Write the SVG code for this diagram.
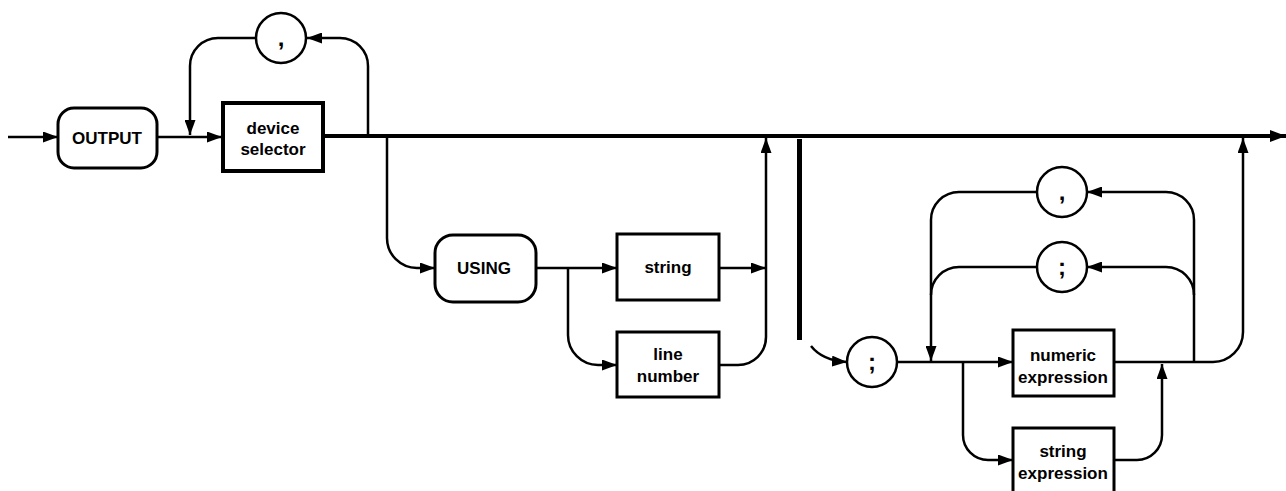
<svg xmlns="http://www.w3.org/2000/svg" width="1286" height="491" viewBox="0 0 1286 491">
<style>
.ln{fill:none;stroke:#000;stroke-width:2.5;stroke-linejoin:round}
.thick{fill:none;stroke:#000;stroke-width:4}
.box{fill:#fff;stroke:#000;stroke-width:3}
.t{font-family:"Liberation Sans",Arial,sans-serif;font-weight:bold;font-size:17px;text-anchor:middle;fill:#000}
.p{font-family:"Liberation Sans",Arial,sans-serif;font-weight:bold;font-size:24px;text-anchor:middle;fill:#000}
</style>
<defs>
<marker id="a" markerUnits="userSpaceOnUse" markerWidth="15" markerHeight="11" viewBox="0 0 15 11" refX="15" refY="5.5" orient="auto">
<path d="M0,0 L15,5.5 L0,11 z" fill="#000"/>
</marker>
<marker id="b" markerUnits="userSpaceOnUse" markerWidth="16" markerHeight="12" viewBox="0 0 16 12" refX="16" refY="6" orient="auto">
<path d="M0,0 L16,6 L0,12 z" fill="#000"/>
</marker>
</defs>
<g id="connectors">
<path class="ln" d="M8,137 H58" marker-end="url(#a)"/>
<path class="ln" d="M157,137 H222" marker-end="url(#a)"/>
<path class="thick" d="M323,136 H1286" marker-end="url(#b)"/>
<path class="ln" d="M368,136 V66 A28,28 0 0 0 340,38 H307" marker-end="url(#a)"/>
<path class="ln" d="M256,38 H218 A28,28 0 0 0 190,66 V135" marker-end="url(#a)"/>
<path class="ln" d="M387,136 V238 A30,30 0 0 0 417,268 H435" marker-end="url(#a)"/>
<path class="ln" d="M536,268 H617" marker-end="url(#a)"/>
<path class="ln" d="M568,268 V335 A30,30 0 0 0 598,365 H617" marker-end="url(#a)"/>
<path class="ln" d="M719,268 H766" marker-end="url(#a)"/>
<path class="ln" d="M719,365 H738 A28,28 0 0 0 766,337 V138" marker-end="url(#a)"/>
<rect x="797" y="139" width="5" height="201" fill="#000"/>
<path class="ln" d="M811,346 C818,355 830,361 847,362" marker-end="url(#a)"/>
<path class="ln" d="M897,362 H1013" marker-end="url(#a)"/>
<path class="ln" d="M1114,362 H1213 A30,30 0 0 0 1243,332 V138" marker-end="url(#a)"/>
<path class="ln" d="M1194,362 V220 A28,28 0 0 0 1166,192 H1087" marker-end="url(#a)"/>
<path class="ln" d="M1037,192 H959 A28,28 0 0 0 931,220 V361" marker-end="url(#a)"/>
<path class="ln" d="M1194,295 A28,28 0 0 0 1166,267 H1087" marker-end="url(#a)"/>
<path class="ln" d="M1037,267 H959 A28,28 0 0 0 931,295"/>
<path class="ln" d="M963,362 V435 A25,25 0 0 0 988,460 H1013" marker-end="url(#a)"/>
<path class="ln" d="M1115,460 H1137 A25,25 0 0 0 1162,435 V364" marker-end="url(#a)"/>
</g>
<g id="node-output">
<rect class="box" x="58" y="108" width="99" height="60" rx="16"/>
<text class="t" x="107" y="144">OUTPUT</text>
</g>
<g id="node-device-selector">
<rect class="box" x="223" y="103" width="100" height="68" style="stroke-width:4"/>
<text class="t" x="273" y="134">device</text>
<text class="t" x="273" y="155">selector</text>
</g>
<g id="node-comma1">
<circle class="box" cx="281" cy="38" r="25" style="stroke-width:2.5"/>
<text class="p" x="281" y="46">,</text>
</g>
<g id="node-using">
<rect class="box" x="435" y="235" width="101" height="67" rx="18"/>
<text class="t" x="484" y="274">USING</text>
</g>
<g id="node-string">
<rect class="box" x="617" y="234" width="102" height="66"/>
<text class="t" x="668" y="273">string</text>
</g>
<g id="node-line-number">
<rect class="box" x="617" y="332" width="102" height="65"/>
<text class="t" x="668" y="360">line</text>
<text class="t" x="668" y="382">number</text>
</g>
<g id="node-semicolon1">
<circle class="box" cx="872" cy="362" r="25" style="stroke-width:2.5"/>
<text class="p" x="872" y="370">;</text>
</g>
<g id="node-comma2">
<circle class="box" cx="1062" cy="192" r="25" style="stroke-width:2.5"/>
<text class="p" x="1062" y="200">,</text>
</g>
<g id="node-semicolon2">
<circle class="box" cx="1062" cy="267" r="25" style="stroke-width:2.5"/>
<text class="p" x="1062" y="275">;</text>
</g>
<g id="node-numeric-expression">
<rect class="box" x="1013" y="330" width="101" height="66"/>
<text class="t" x="1063" y="361">numeric</text>
<text class="t" x="1063" y="383">expression</text>
</g>
<g id="node-string-expression">
<rect class="box" x="1013" y="428" width="101" height="70"/>
<text class="t" x="1063" y="457">string</text>
<text class="t" x="1063" y="479">expression</text>
</g>
</svg>
